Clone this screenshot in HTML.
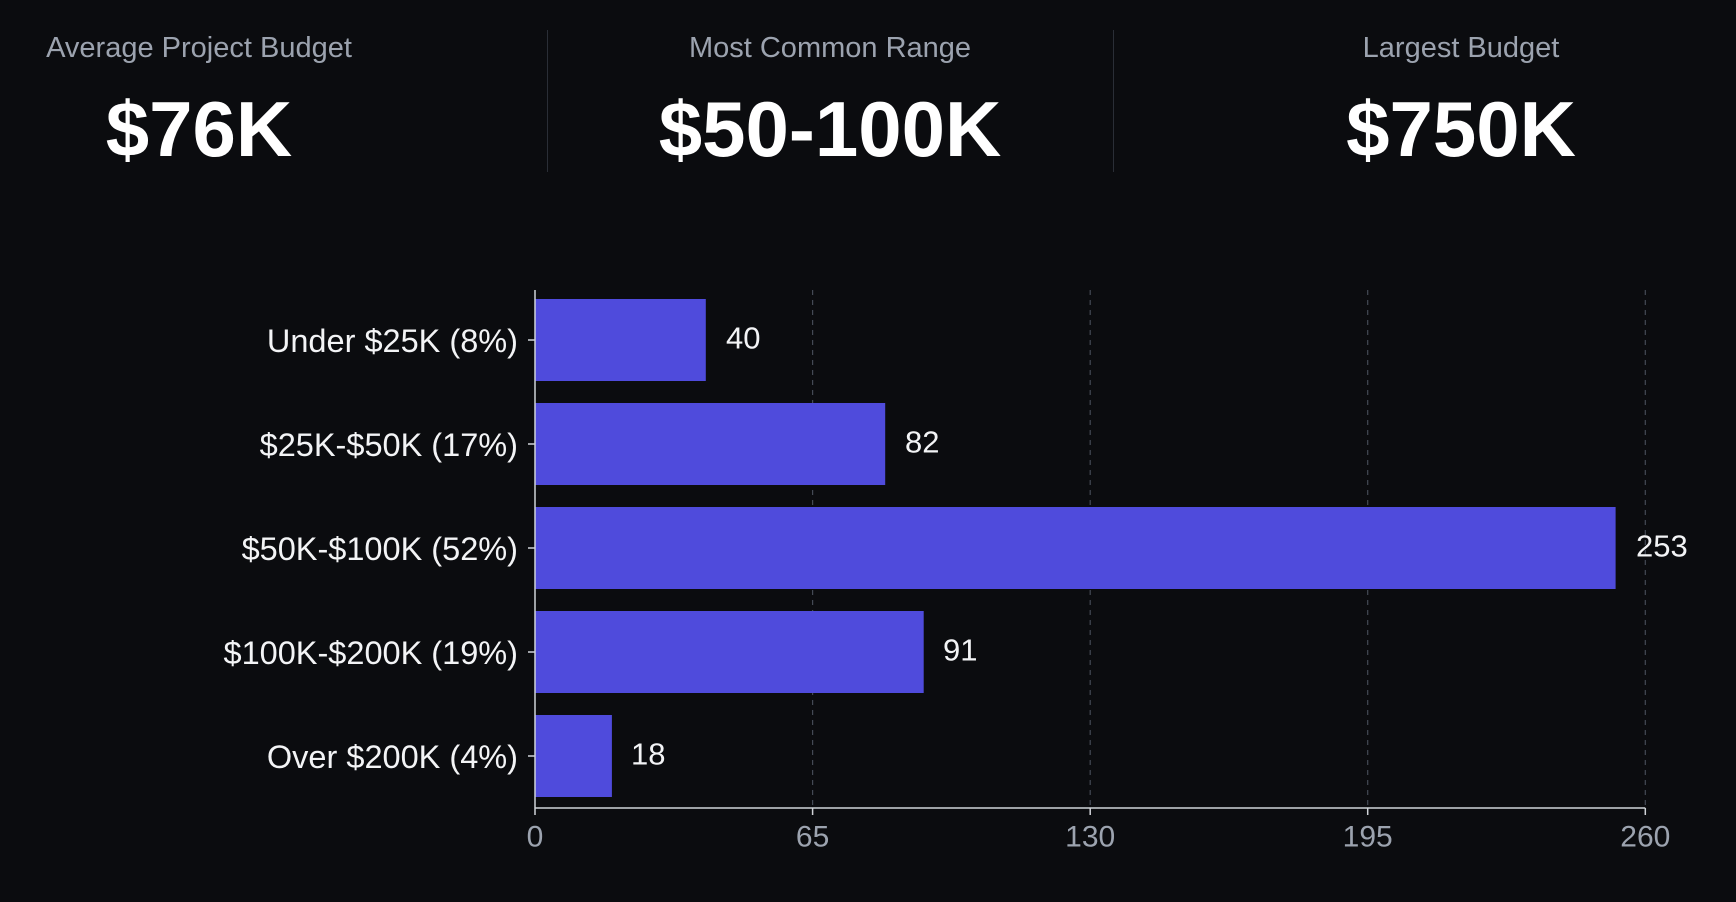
<!DOCTYPE html>
<html><head><style>
body{margin:0;background:#0b0c0f;width:1736px;height:902px;overflow:hidden;font-family:"Liberation Sans",sans-serif;}
.t{position:absolute;transform:translateX(-50%);white-space:nowrap}
.lab{color:#9ca3af;font-size:29px;top:32px}
.val{color:#fff;font-size:78px;font-weight:bold;top:84px}
.div{position:absolute;top:30px;height:142px;width:1px;background:#2a2e36}
</style></head><body>
<div class="t lab" style="left:199px">Average Project Budget</div>
<div class="t val" style="left:199px">$76K</div>
<div class="div" style="left:547px"></div>
<div class="t lab" style="left:830px">Most Common Range</div>
<div class="t val" style="left:830px">$50-100K</div>
<div class="div" style="left:1113px"></div>
<div class="t lab" style="left:1461px">Largest Budget</div>
<div class="t val" style="left:1461px">$750K</div>
<svg width="1736" height="902" style="position:absolute;left:0;top:0" font-family="Liberation Sans, sans-serif">
<g stroke="#444a55" stroke-dasharray="5,5" stroke-width="1.2">
<line x1="812.6" y1="290" x2="812.6" y2="808"/><line x1="1090.2" y1="290" x2="1090.2" y2="808"/><line x1="1367.7" y1="290" x2="1367.7" y2="808"/><line x1="1645.3" y1="290" x2="1645.3" y2="808"/>
</g>
<g fill="#4f4bdc">
<rect x="535" y="299" width="170.8" height="82"/>
<rect x="535" y="403" width="350.2" height="82"/>
<rect x="535" y="507" width="1080.6" height="82"/>
<rect x="535" y="611" width="388.7" height="82"/>
<rect x="535" y="715" width="76.9" height="82"/>
</g>
<g stroke="#d0d3d8" stroke-width="1.5">
<line x1="535" y1="290" x2="535" y2="808"/><line x1="535" y1="808" x2="1645.3" y2="808"/>
<line x1="528" y1="340" x2="535" y2="340"/><line x1="528" y1="444" x2="535" y2="444"/><line x1="528" y1="548" x2="535" y2="548"/><line x1="528" y1="652" x2="535" y2="652"/><line x1="528" y1="756" x2="535" y2="756"/>
<line x1="535" y1="808" x2="535" y2="815"/><line x1="812.6" y1="808" x2="812.6" y2="815"/><line x1="1090.2" y1="808" x2="1090.2" y2="815"/><line x1="1367.7" y1="808" x2="1367.7" y2="815"/><line x1="1645.3" y1="808" x2="1645.3" y2="815"/>
</g>
<g fill="#f3f4f6" font-size="32.5" text-anchor="end" dominant-baseline="central">
<text x="518" y="341">Under $25K (8%)</text><text x="518" y="445">$25K-$50K (17%)</text><text x="518" y="549">$50K-$100K (52%)</text><text x="518" y="653">$100K-$200K (19%)</text><text x="518" y="757">Over $200K (4%)</text>
</g>
<g fill="#f3f4f6" font-size="31" dominant-baseline="central">
<text x="726" y="338">40</text><text x="905" y="442">82</text><text x="1636" y="546">253</text><text x="943" y="650">91</text><text x="631" y="754">18</text>
</g>
<g fill="#9ca3af" font-size="30" text-anchor="middle" dominant-baseline="central">
<text x="535" y="837">0</text><text x="812.6" y="837">65</text><text x="1090.2" y="837">130</text><text x="1367.7" y="837">195</text><text x="1645.3" y="837">260</text>
</g>
</svg>
</body></html>
